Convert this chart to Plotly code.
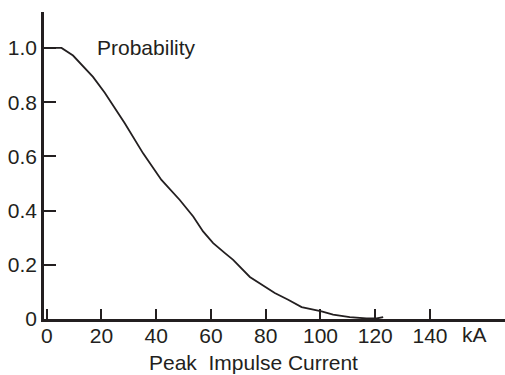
import plotly.graph_objects as go

current_ka = [0, 5.4, 9.6, 13.3, 16.9, 21.2, 25.5, 28.5, 35.2, 41.9, 48.6, 53.5, 57.1,
              60.8, 65.1, 68.1, 74.2, 78.5, 83.3, 88.2, 93.1, 100.4, 104.6, 110.7, 116.8,
              120.5, 122.9]
probability = [1.0, 1.0, 0.972, 0.930, 0.893, 0.835, 0.771, 0.722, 0.611, 0.513, 0.439,
               0.378, 0.323, 0.280, 0.243, 0.218, 0.155, 0.126, 0.096, 0.071, 0.044, 0.028,
               0.016, 0.007, 0.002, 0.002, 0.007]

x_ticks = [0, 20, 40, 60, 80, 100, 120, 140]
y_ticks = [0, 0.2, 0.4, 0.6, 0.8, 1.0]
y_tick_labels = ["0", "0.2", "0.4", "0.6", "0.8", "1.0"]

ink = "#231f20"
font = dict(family="Liberation Sans, Arial, sans-serif", size=21, color=ink)

fig = go.Figure()
fig.add_trace(go.Scatter(x=current_ka, y=probability, mode="lines",
                         line=dict(color=ink, width=1.8), showlegend=False,
                         hoverinfo="skip"))

plot_h = 375 - 12 - 56

fig.update_layout(
    template="none",
    width=505, height=375,
    margin=dict(l=44, r=0, t=12, b=56, autoexpand=False),
    paper_bgcolor="white", plot_bgcolor="white",
    font=font,
    xaxis=dict(range=[-1, 167.4], tickvals=x_ticks, ticks="inside", ticklen=10,
               tickwidth=2, tickcolor=ink, showline=True, linecolor=ink, linewidth=2.5,
               showgrid=False, zeroline=False, tickfont=font, automargin=False,
               ticklabelstandoff=-4),
    yaxis=dict(range=[0, 1.1326], tickvals=y_ticks, ticktext=y_tick_labels,
               ticks="inside", ticklen=12, tickwidth=2, tickcolor=ink,
               showline=True, linecolor=ink, linewidth=2.5,
               showgrid=False, zeroline=False, tickfont=font, automargin=False),
    annotations=[
        dict(text="Probability", x=17.6, y=1.0, xref="x", yref="y",
             xanchor="left", yanchor="middle", showarrow=False, font=font),
        dict(text="kA", x=156.2, y=(375 - 56 - 334) / plot_h, xref="x", yref="paper",
             xanchor="center", yanchor="middle", showarrow=False, font=font),
        dict(text="Peak\u00a0 Impulse Current", x=(254 - 47) / 2.736,
             y=(375 - 56 - 362) / plot_h, xref="x", yref="paper",
             xanchor="center", yanchor="middle", showarrow=False, font=font),
    ],
)

fig.write_html("out.html", config={"displayModeBar": False},
               post_script="document.body.style.margin='0';document.body.style.overflow='hidden';")
